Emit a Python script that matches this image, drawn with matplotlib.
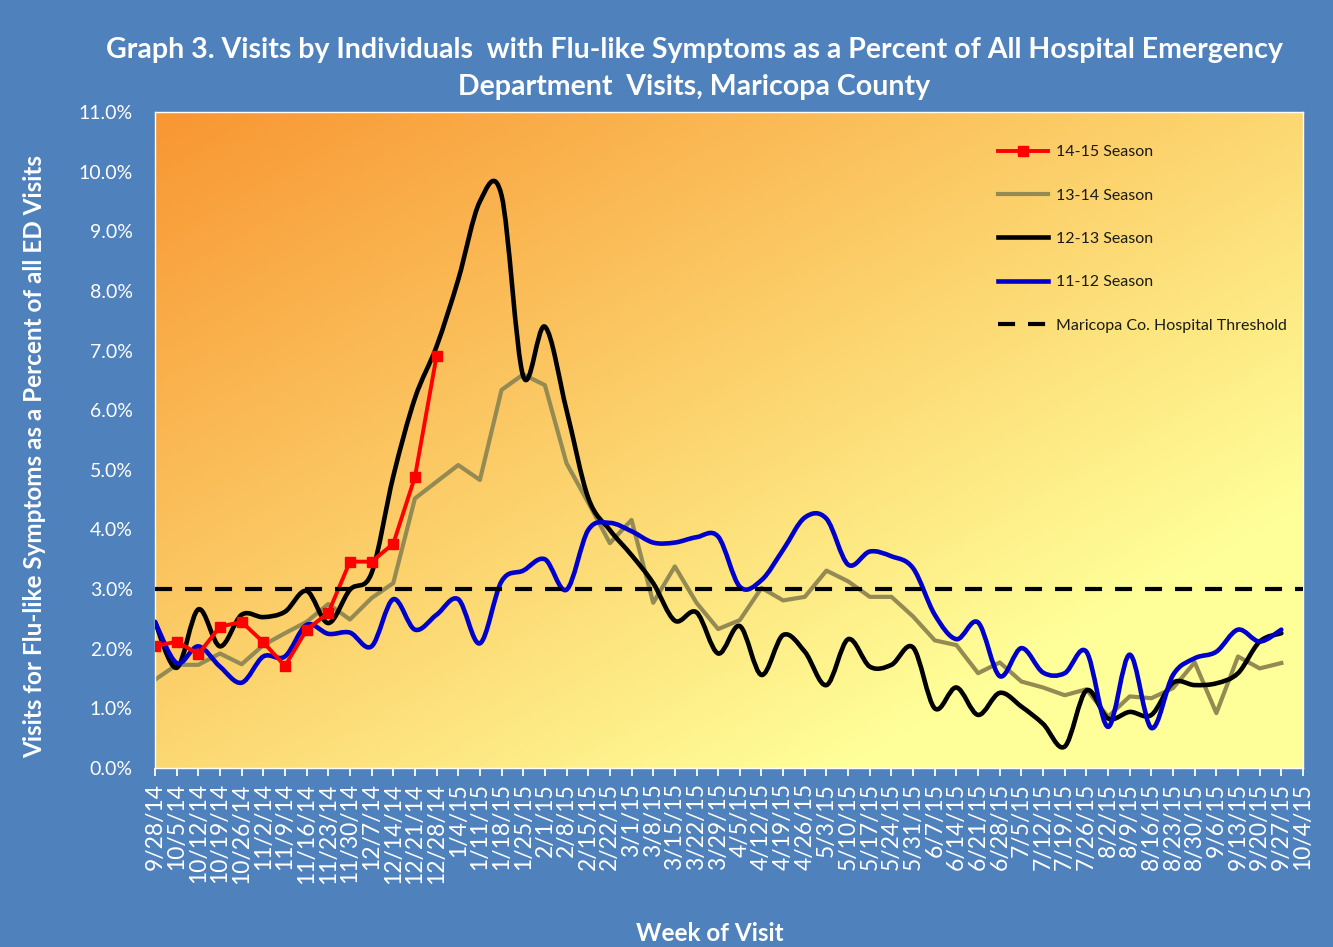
import numpy as np
import matplotlib.pyplot as plt
from matplotlib.path import Path
from matplotlib.patches import PathPatch
from matplotlib.lines import Line2D

weeks = ['9/28/14', '10/5/14', '10/12/14', '10/19/14', '10/26/14', '11/2/14', '11/9/14',
         '11/16/14', '11/23/14', '11/30/14', '12/7/14', '12/14/14', '12/21/14', '12/28/14',
         '1/4/15', '1/11/15', '1/18/15', '1/25/15', '2/1/15', '2/8/15', '2/15/15', '2/22/15',
         '3/1/15', '3/8/15', '3/15/15', '3/22/15', '3/29/15', '4/5/15', '4/12/15', '4/19/15',
         '4/26/15', '5/3/15', '5/10/15', '5/17/15', '5/24/15', '5/31/15', '6/7/15', '6/14/15',
         '6/21/15', '6/28/15', '7/5/15', '7/12/15', '7/19/15', '7/26/15', '8/2/15', '8/9/15',
         '8/16/15', '8/23/15', '8/30/15', '9/6/15', '9/13/15', '9/20/15', '9/27/15', '10/4/15']

season_1415 = [2.04, 2.12, 1.91, 2.37, 2.45, 2.11, 1.71, 2.32, 2.60, 3.46, 3.46, 3.76, 4.88, 6.91]

season_1314 = [1.48, 1.73, 1.73, 1.92, 1.74, 2.06, 2.26, 2.45, 2.75, 2.49, 2.85, 3.10, 4.52,
               4.80, 5.08, 4.83, 6.34, 6.60, 6.42, 5.11, 4.45, 3.77, 4.16, 2.77, 3.38, 2.77,
               2.33, 2.48, 3.02, 2.81, 2.87, 3.31, 3.13, 2.87, 2.87, 2.54, 2.14, 2.06, 1.59,
               1.77, 1.45, 1.35, 1.22, 1.32, 0.86, 1.20, 1.17, 1.34, 1.77, 0.92, 1.87, 1.67, 1.76]

season_1213 = [2.45, 1.68, 2.66, 2.04, 2.57, 2.53, 2.62, 2.97, 2.43, 2.99, 3.27, 4.89, 6.20,
               7.07, 8.19, 9.50, 9.60, 6.57, 7.40, 6.00, 4.53, 3.99, 3.57, 3.10, 2.47, 2.61,
               1.92, 2.38, 1.56, 2.23, 1.95, 1.39, 2.16, 1.70, 1.73, 2.02, 1.00, 1.35, 0.89,
               1.26, 1.03, 0.74, 0.36, 1.30, 0.83, 0.94, 0.89, 1.43, 1.39, 1.42, 1.59, 2.12, 2.26]

season_1112 = [2.45, 1.76, 2.04, 1.70, 1.43, 1.87, 1.87, 2.40, 2.25, 2.27, 2.04, 2.83, 2.32,
               2.57, 2.83, 2.09, 3.13, 3.31, 3.50, 2.99, 3.99, 4.11, 3.97, 3.78, 3.78, 3.87,
               3.88, 3.04, 3.15, 3.66, 4.20, 4.18, 3.41, 3.63, 3.55, 3.35, 2.57, 2.16, 2.44,
               1.54, 2.01, 1.60, 1.59, 1.95, 0.69, 1.90, 0.67, 1.56, 1.84, 1.95, 2.32, 2.12, 2.32]

threshold = 3.0

BG = '#4F81BD'
GRAY = '#948A54'
BLUE = '#0000CC'


def smooth_path(vals):
    # excel-like smoothed line: bezier segments through each point
    p = np.column_stack([np.arange(len(vals), dtype=float), vals])
    n = len(p)
    verts, codes = [p[0]], [Path.MOVETO]
    for i in range(n - 1):
        p0, p1 = p[max(i - 1, 0)], p[i]
        p2, p3 = p[i + 1], p[min(i + 2, n - 1)]
        verts += [p1 + (p2 - p0) / 6, p2 - (p3 - p1) / 6, p2]
        codes += [Path.CURVE4] * 3
    return Path(verts, codes)


plt.rcParams['font.family'] = ['Lato', 'DejaVu Sans']

fig = plt.figure(figsize=(13.33, 9.47), dpi=100, facecolor=BG)
ax = fig.add_axes([155 / 1333, 1 - 768 / 947, 1148 / 1333, 656 / 947])

# background gradient, orange top-left to pale yellow bottom-right
nx, ny = 300, 200
u = np.linspace(0, 1, nx)[None, :]
v = np.linspace(0, 1, ny)[:, None]
t = np.clip((u + v) / 2 / 0.8, 0, 1)
c0 = np.array([248, 150, 50]) / 255
c1 = np.array([255, 255, 153]) / 255
grad = c0 + (c1 - c0) * t[..., None]
ax.imshow(grad, extent=(0, len(weeks) - 1, 0, 11), aspect='auto', origin='upper', zorder=0)

ax.plot(range(len(season_1314)), season_1314, color=GRAY, lw=3.0, zorder=2)
ax.add_patch(PathPatch(smooth_path(season_1213), fc='none', ec='black', lw=3.3, zorder=3,
                       capstyle='round', joinstyle='round'))
ax.add_patch(PathPatch(smooth_path(season_1112), fc='none', ec=BLUE, lw=3.3, zorder=4,
                       capstyle='round', joinstyle='round'))
ax.plot(range(len(season_1415)), season_1415, color='red', lw=2.8, marker='s', ms=7.5,
        zorder=5)
ax.axhline(threshold, color='black', lw=3, dashes=(4.1, 3.1), zorder=6)

ax.set_xlim(0, len(weeks) - 1)
ax.set_ylim(0, 11)
ax.set_xticks(range(len(weeks)))
ax.set_xticklabels(weeks, rotation=90, fontsize=16.5, color='white')
ax.set_yticks(np.arange(0, 11.5, 1))
ax.set_yticklabels([f'{y:.1f}%' for y in np.arange(0, 11.5, 1)], fontsize=14, color='white')
ax.tick_params(axis='x', colors='white', length=6, width=1.3, pad=5)
ax.tick_params(axis='y', length=0, pad=16)
for sp in ax.spines.values():
    sp.set_color('white')
    sp.set_linewidth(1)

handles = [
    Line2D([], [], color='red', lw=2.8, marker='s', ms=7.5),
    Line2D([], [], color=GRAY, lw=3),
    Line2D([], [], color='black', lw=3.3),
    Line2D([], [], color=BLUE, lw=3.3),
    Line2D([], [], color='black', lw=3, dashes=(4.1, 3.1)),
]
labels = ['14-15 Season', '13-14 Season', '12-13 Season', '11-12 Season',
          'Maricopa Co. Hospital Threshold']
fig.legend(handles, labels, loc='upper left', bbox_to_anchor=(998 / 1333, 1 - 145 / 947),
           frameon=False, fontsize=11.5, handlelength=3.1, handletextpad=0.5,
           labelspacing=1.83, borderpad=0, borderaxespad=0, labelcolor='#1a1a1a')

fig.text(694 / 1333, 1 - 50 / 947,
         'Graph 3. Visits by Individuals  with Flu-like Symptoms as a Percent of All Hospital Emergency',
         ha='center', va='center', fontsize=20.5, fontweight='bold', color='white')
fig.text(694 / 1333, 1 - 87 / 947, 'Department  Visits, Maricopa County',
         ha='center', va='center', fontsize=20.5, fontweight='bold', color='white')
fig.text(35 / 1333, 1 - 457 / 947, 'Visits for Flu-like Symptoms as a Percent of all ED Visits',
         rotation=90, ha='center', va='center', fontsize=17.5, fontweight='bold', color='white')
fig.text(710 / 1333, 1 - 933 / 947, 'Week of Visit', ha='center', va='center',
         fontsize=17.5, fontweight='bold', color='white')

fig.savefig('out.png', dpi=100, facecolor=BG)
